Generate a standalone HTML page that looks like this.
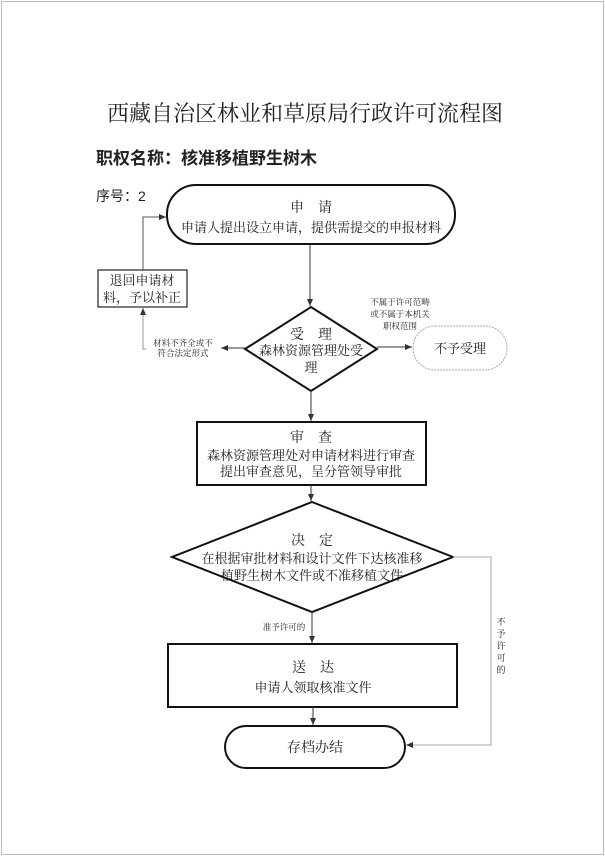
<!DOCTYPE html>
<html><head><meta charset="utf-8"><style>
html,body{margin:0;padding:0;background:#fff;}
svg{display:block;}
text{font-family:"Liberation Serif","Noto Serif CJK SC","Noto Sans CJK SC",serif;fill:#222;}
.b{font-family:"Liberation Sans","Noto Sans CJK SC",sans-serif;font-weight:bold;}
</style></head><body>
<svg width="605" height="856" viewBox="0 0 605 856" xmlns="http://www.w3.org/2000/svg">
<defs>
<marker id="a" markerWidth="8" markerHeight="8" refX="7" refY="4" orient="auto" markerUnits="userSpaceOnUse">
<path d="M0,1 L7,4 L0,7 Z" fill="#333"/></marker>
</defs>
<rect x="1.5" y="1.5" width="602" height="853" fill="none" stroke="#bbb" stroke-width="1"/>
<text x="305" y="121" font-size="22" text-anchor="middle">西藏自治区林业和草原局行政许可流程图</text>
<text x="96" y="164" font-size="17" class="b">职权名称：核准移植野生树木</text>
<text x="96" y="201" font-size="14" class="b" style="font-weight:normal">序号：2</text>

<!-- top pill -->
<rect x="167" y="185" width="288" height="59" rx="29" fill="none" stroke="#111" stroke-width="2"/>
<text x="311" y="212" font-size="14" text-anchor="middle">申　请</text>
<text x="311" y="232" font-size="13" text-anchor="middle">申请人提出设立申请，提供需提交的申报材料</text>
<line x1="310" y1="244" x2="310" y2="306" stroke="#333" marker-end="url(#a)"/>

<!-- diamond 受理 -->
<polygon points="311,307 377,349 311,391 245,349" fill="none" stroke="#111" stroke-width="2"/>
<text x="311" y="339" font-size="14" text-anchor="middle">受　理</text>
<text x="311" y="355" font-size="13" text-anchor="middle">森林资源管理处受</text>
<text x="311" y="372" font-size="13" text-anchor="middle">理</text>

<!-- left return -->
<line x1="245" y1="348" x2="221" y2="348" stroke="#333" marker-end="url(#a)"/>
<text x="183" y="346" font-size="8.5" text-anchor="middle">材料不齐全或不</text>
<text x="183" y="356" font-size="8.5" text-anchor="middle">符合法定形式</text>
<polyline points="146,349 143,349 143,308" fill="none" stroke="#999" stroke-width="1" marker-end="url(#a)"/>
<rect x="98" y="270" width="89" height="37" fill="none" stroke="#333" stroke-width="1.3"/>
<text x="142" y="285" font-size="13" text-anchor="middle">退回申请材</text>
<text x="142" y="302" font-size="13" text-anchor="middle">料，予以补正</text>
<polyline points="143,270 143,217 166,217" fill="none" stroke="#555" stroke-width="1" marker-end="url(#a)"/>

<!-- right reject -->
<line x1="377" y1="347" x2="412" y2="347" stroke="#333" marker-end="url(#a)"/>
<text x="400" y="305" font-size="8.5" text-anchor="middle">不属于许可范畴</text>
<text x="400" y="317" font-size="8.5" text-anchor="middle">或不属于本机关</text>
<text x="400" y="329" font-size="8.5" text-anchor="middle">职权范围</text>
<rect x="413" y="326" width="94" height="44" rx="22" fill="none" stroke="#aaa" stroke-dasharray="2,1"/>
<text x="460" y="353" font-size="13" text-anchor="middle">不予受理</text>

<line x1="311" y1="391" x2="311" y2="421" stroke="#333" marker-end="url(#a)"/>
<!-- 审查 -->
<rect x="197" y="422" width="229" height="63" fill="none" stroke="#111" stroke-width="2"/>
<text x="311" y="442" font-size="14" text-anchor="middle">审　查</text>
<text x="311" y="460" font-size="13" text-anchor="middle">森林资源管理处对申请材料进行审查</text>
<text x="311" y="476" font-size="13" text-anchor="middle">提出审查意见，呈分管领导审批</text>
<line x1="311" y1="485" x2="311" y2="501" stroke="#333" marker-end="url(#a)"/>

<!-- 决定 -->
<polygon points="312,502 453,557 312,612 172,557" fill="none" stroke="#111" stroke-width="2"/>
<text x="312" y="545" font-size="14" text-anchor="middle">决　定</text>
<text x="312" y="563" font-size="13" text-anchor="middle">在根据审批材料和设计文件下达核准移</text>
<text x="312" y="580" font-size="13" text-anchor="middle">植野生树木文件或不准移植文件</text>
<line x1="312" y1="612" x2="312" y2="643" stroke="#333" marker-end="url(#a)"/>
<text x="284" y="630" font-size="8.5" text-anchor="middle">准予许可的</text>

<!-- 送达 -->
<rect x="168" y="644" width="289" height="63" fill="none" stroke="#111" stroke-width="2"/>
<text x="313" y="672" font-size="14" text-anchor="middle">送　达</text>
<text x="313" y="692" font-size="13" text-anchor="middle">申请人领取核准文件</text>
<line x1="313" y1="707" x2="313" y2="725" stroke="#333" marker-end="url(#a)"/>

<!-- 存档 -->
<rect x="225" y="726" width="180" height="42" rx="21" fill="none" stroke="#111" stroke-width="2"/>
<text x="315" y="752" font-size="14" text-anchor="middle">存档办结</text>

<polyline points="453,557 491,557 491,745 406,745" fill="none" stroke="#aaa" stroke-width="1" marker-end="url(#a)"/>
<g font-size="8.5">
<text x="501" y="625" font-size="9" text-anchor="middle">不</text>
<text x="501" y="637" font-size="9" text-anchor="middle">予</text>
<text x="501" y="649" font-size="9" text-anchor="middle">许</text>
<text x="501" y="661" font-size="9" text-anchor="middle">可</text>
<text x="501" y="673" font-size="9" text-anchor="middle">的</text>
</g>
</svg>
</body></html>
